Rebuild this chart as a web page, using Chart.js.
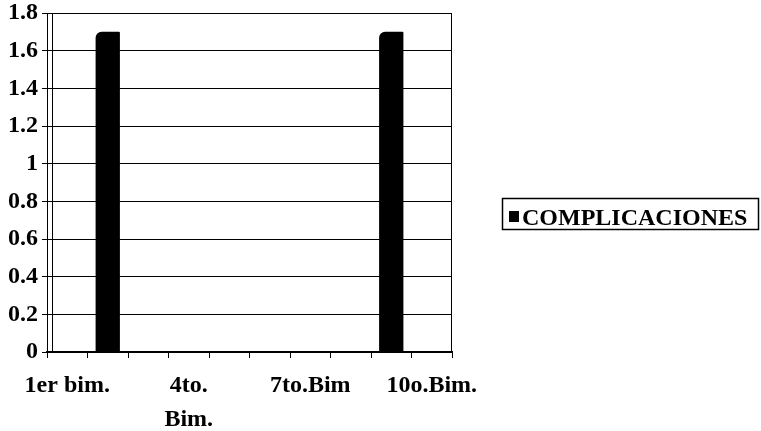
<!DOCTYPE html>
<html>
<head>
<meta charset="utf-8">
<script src="https://cdn.jsdelivr.net/npm/chart.js@4/dist/chart.umd.min.js"></script>
<style>
  html, body { margin: 0; padding: 0; background: #fff; }
  canvas { display: block; }
</style>
</head>
<body>
<canvas id="c" width="761" height="431"></canvas>
<script>
// Bimester categories (only every third one gets a printed label)
const categories = ['1er bim.', '2do bim.', '3er bim.', ['4to.', 'Bim.'], '5to. bim.',
                    '6to. bim.', '7to.Bim', '8vo. bim.', '9no. bim.', '10o.Bim.'];
const labelledIndexes = [0, 3, 6, 9];

// Series values
const seriesName = 'COMPLICACIONES';
const complicaciones = [0, 1.7, 0, 0, 0, 0, 0, 0, 1.7, 0];

// Value axis range
const yMin = 0;
const yMax = 1.8;
const yStep = 0.2;

const FONT = 'Liberation Serif';

// Extra frame lines (back wall edge, right border) and the boxed legend
const framePlugin = {
  id: 'frame',
  beforeDatasetsDraw(chart) {
    const { ctx, chartArea: a } = chart;
    ctx.save();
    ctx.strokeStyle = '#000';
    ctx.lineWidth = 1;
    ctx.beginPath();
    ctx.moveTo(a.left + 5.5, a.top);
    ctx.lineTo(a.left + 5.5, a.bottom);
    ctx.moveTo(Math.round(a.right) - 0.5, a.top);
    ctx.lineTo(Math.round(a.right) - 0.5, a.bottom);
    ctx.stroke();
    ctx.restore();
  },
  afterDraw(chart) {
    const { ctx } = chart;
    const ds = chart.data.datasets[0];
    ctx.save();
    // legend frame
    ctx.strokeStyle = '#000';
    ctx.lineWidth = 1.5;
    ctx.strokeRect(502.5, 198.5, 256, 31);
    // swatch
    ctx.fillStyle = ds.backgroundColor;
    ctx.fillRect(509, 211, 10, 11);
    // legend text
    ctx.fillStyle = '#000';
    ctx.font = 'bold 24px "' + FONT + '"';
    ctx.textBaseline = 'alphabetic';
    ctx.fillText(ds.label, 522, 225);
    ctx.restore();
  }
};

new Chart(document.getElementById('c'), {
  type: 'bar',
  data: {
    labels: categories,
    datasets: [{
      label: seriesName,
      data: complicaciones,
      backgroundColor: '#000',
      borderWidth: 0,
      borderRadius: { topLeft: 6, topRight: 1, bottomLeft: 0, bottomRight: 0 },
      barPercentage: 0.6,
      categoryPercentage: 1.0
    }]
  },
  options: {
    responsive: false,
    devicePixelRatio: 1,
    animation: false,
    layout: { padding: { top: 13, right: 309, left: 0, bottom: 0 } },
    plugins: {
      legend: { display: false },
      tooltip: { enabled: false }
    },
    scales: {
      x: {
        offset: true,
        afterFit(scale) { scale.height = 79; },
        grid: {
          display: true,
          offset: true,
          drawOnChartArea: false,
          drawTicks: true,
          tickLength: 6,
          color: '#000',
          lineWidth: 1
        },
        border: { display: true, color: '#000', width: 2 },
        ticks: {
          autoSkip: false,
          maxRotation: 0,
          minRotation: 0,
          padding: 11,
          color: '#000',
          font: { family: FONT, size: 24, weight: 'bold', lineHeight: 1.4 },
          callback(value, index) {
            return labelledIndexes.includes(index) ? categories[index] : '';
          }
        }
      },
      y: {
        min: yMin,
        max: yMax,
        afterFit(scale) {
          scale.width = 47;
          scale.paddingTop = 0;
          scale.paddingBottom = 0;
        },
        grid: {
          color: '#000',
          lineWidth: 1,
          drawTicks: true,
          tickLength: 5
        },
        border: { display: true, color: '#000', width: 1 },
        ticks: {
          stepSize: yStep,
          padding: 4,
          color: '#000',
          font: { family: FONT, size: 24, weight: 'bold' },
          callback(value) { return String(Number(value.toFixed(1))); }
        }
      }
    }
  },
  plugins: [framePlugin]
});
</script>
</body>
</html>
